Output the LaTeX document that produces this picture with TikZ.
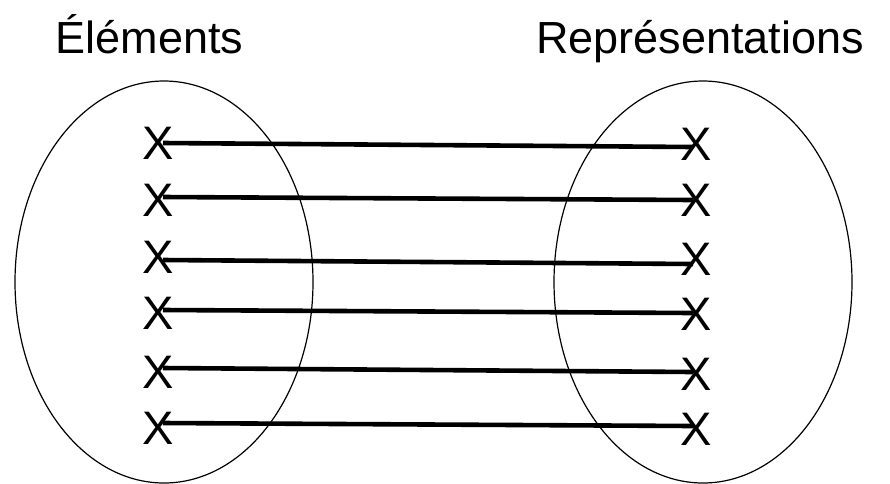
\documentclass[tikz,border=0pt]{standalone}
\usepackage{fontspec}
\setmainfont{Liberation Sans}
\begin{document}
\begin{tikzpicture}[x=1pt,y=-1pt,
  settitle/.style={anchor=base west,inner sep=0pt,font=\fontsize{45}{50}\selectfont},
  cross/.style={inner sep=0pt,font=\fontsize{47}{50}\selectfont},
  setline/.style={line width=1.2pt},
  link/.style={line width=4.6pt}]
\useasboundingbox (0,0) rectangle (890,483);
\fill[white] (0,0) rectangle (890,483);

% titles of the two sets
\node[settitle] (tl) at (55.5,53) {Éléments};
\node[settitle] (tr) at (536,53) {Représentations};

% the two sets
\draw[setline] (164,282) ellipse [x radius=149pt, y radius=201pt];
\draw[setline] (703,282) ellipse [x radius=149pt, y radius=201pt];

% elements and their representations
\foreach \i/\yl/\yr in {1/143/144, 2/200/200, 3/257.5/259, 4/313.5/314.5, 5/372.5/374.5, 6/428.5/429.5} {
  \node[cross] (l\i) at (158,\yl) {X};
  \node[cross] (r\i) at (696.5,\yr) {X};
}

% one link per element
\foreach \i/\ya/\yb in {1/143/147, 2/197/200, 3/260/264, 4/310/313, 5/368/372, 6/423/426} {
  \coordinate (a\i) at (163,\ya);
  \coordinate (b\i) at (693,\yb);
  \draw[link] (a\i) -- (b\i);
}
\end{tikzpicture}
\end{document}
